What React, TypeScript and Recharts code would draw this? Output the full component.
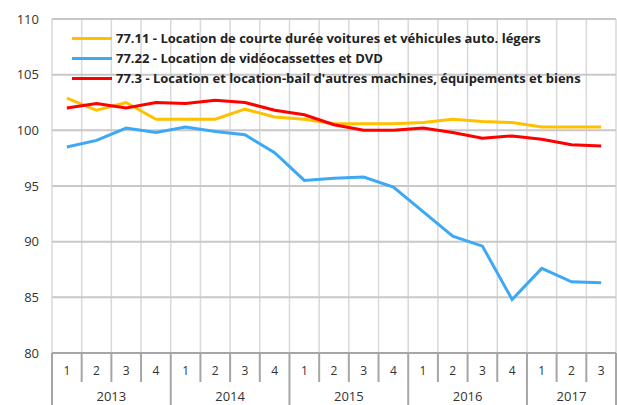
import React from 'react';
import { LineChart, Line, XAxis, YAxis, CartesianGrid } from 'recharts';

const quarterLabels = ['1','2','3','4','1','2','3','4','1','2','3','4','1','2','3','4','1','2','3'];
const yearLabels = ['2013','2013','2013','2013','2014','2014','2014','2014','2015','2015','2015','2015','2016','2016','2016','2016','2017','2017','2017'];
const yTicks = [80, 85, 90, 95, 100, 105, 110];

const seriesVoitures = [102.9, 101.8, 102.5, 101.0, 101.0, 101.0, 101.9, 101.2, 101.0, 100.6, 100.6, 100.6, 100.7, 101.0, 100.8, 100.7, 100.3, 100.3, 100.3];
const seriesVideo = [98.5, 99.1, 100.2, 99.8, 100.3, 99.9, 99.6, 98.0, 95.5, 95.7, 95.8, 94.9, 92.7, 90.5, 89.6, 84.8, 87.6, 86.4, 86.3];
const seriesMachines = [102.0, 102.4, 102.0, 102.5, 102.4, 102.7, 102.5, 101.8, 101.4, 100.5, 100.0, 100.0, 100.2, 99.8, 99.3, 99.5, 99.2, 98.7, 98.6];

const names = [
  '77.11 - Location de courte durée voitures et véhicules auto. légers',
  '77.22 - Location de vidéocassettes et DVD',
  "77.3 - Location et location-bail d'autres machines, équipements et biens",
];
const colors = ['#FFC000', '#3DA8F4', '#FF0000'];

const data = quarterLabels.map((q, i) => ({
  key: yearLabels[i] + '-' + q + '-' + i,
  a: seriesVoitures[i],
  b: seriesVideo[i],
  c: seriesMachines[i],
}));

const W = 617;
const H = 405;
const M = { top: 19, right: 1, left: 0, bottom: 0 };
const YW = 52;
const XH = 52;
const plotW = W - M.left - M.right - YW;
const n = data.length;
const step = plotW / n;
const FONT = '"Open Sans", "Noto Sans", sans-serif';
const AXIS_GRAY = '#A6A6A6';

const XTick = (props: any) => {
  const { x, y, index } = props;
  const i = index as number;
  const left = x - step / 2;
  const yearStart = i === 0 || yearLabels[i] !== yearLabels[i - 1];
  const elems: any[] = [];
  elems.push(
    <text key="q" x={x} y={y + 22} textAnchor="middle" fontSize={12} fill="#333" fontFamily={FONT}>
      {quarterLabels[i]}
    </text>
  );
  elems.push(
    <line key="s" x1={left} x2={left} y1={y} y2={yearStart ? y + XH : y + 29} stroke={AXIS_GRAY} strokeWidth={2} />
  );
  if (i === n - 1) {
    elems.push(<line key="e" x1={x + step / 2} x2={x + step / 2} y1={y} y2={y + XH} stroke={AXIS_GRAY} strokeWidth={2} />);
  }
  if (yearStart) {
    let cnt = 0;
    for (let j = i; j < n && yearLabels[j] === yearLabels[i]; j++) cnt++;
    const cx = x + ((cnt - 1) / 2) * step;
    elems.push(
      <text key="y" x={cx} y={y + 48} textAnchor="middle" fontSize={13} fill="#333" fontFamily={FONT}>
        {yearLabels[i]}
      </text>
    );
  }
  return <g>{elems}</g>;
};

export default function App() {
  return (
    <div style={{ position: 'absolute', left: 0, top: 0, width: W, height: H, background: '#fff' }}>
      <LineChart width={W} height={H} data={data} margin={M}>
        <CartesianGrid
          horizontal={false}
          stroke="#D9D9D9"
          strokeWidth={1.5}
          verticalCoordinatesGenerator={({ offset }: any) =>
            Array.from({ length: n + 1 }, (_, k) => offset.left + (k * offset.width) / n)
          }
        />
        <CartesianGrid vertical={false} stroke="#C8C8C8" strokeWidth={2} />
        <XAxis
          dataKey="key"
          scale="band"
          interval={0}
          height={XH}
          tickSize={0}
          tickMargin={0}
          tickLine={false}
          axisLine={{ stroke: AXIS_GRAY, strokeWidth: 2 }}
          tick={<XTick />}
        />
        <YAxis
          width={YW}
          domain={[80, 110]}
          ticks={yTicks}
          axisLine={false}
          tickLine={false}
          tickSize={6}
          tickMargin={7}
          tick={{ fontSize: 13, fill: '#333', fontFamily: FONT }}
          interval={0}
        />
        <Line dataKey="a" name={names[0]} stroke={colors[0]} strokeWidth={3} dot={false} isAnimationActive={false} />
        <Line dataKey="b" name={names[1]} stroke={colors[1]} strokeWidth={3} dot={false} isAnimationActive={false} />
        <Line dataKey="c" name={names[2]} stroke={colors[2]} strokeWidth={3} dot={false} isAnimationActive={false} />
      </LineChart>
      <div
        style={{
          position: 'absolute',
          top: 28,
          left: 72,
          fontFamily: FONT,
          fontWeight: 700,
          fontSize: 13,
          color: '#222',
          lineHeight: '20px',
        }}
      >
        {names.map((nm, i) => (
          <div key={i} style={{ display: 'flex', alignItems: 'center', height: 20, whiteSpace: 'nowrap' }}>
            <span style={{ display: 'inline-block', width: 40, height: 3, background: colors[i], marginRight: 4 }} />
            <span>{nm}</span>
          </div>
        ))}
      </div>
    </div>
  );
}
